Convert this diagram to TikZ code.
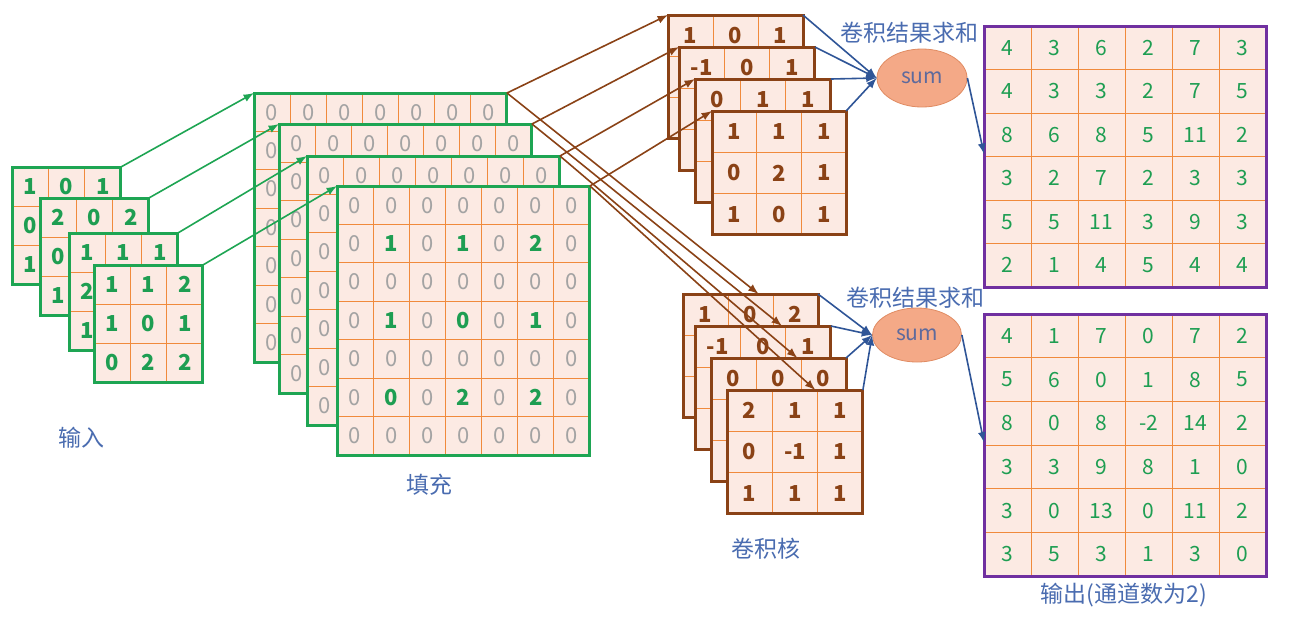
\documentclass[tikz,border=0pt]{standalone}
\usepackage{fontspec}
\setmainfont{Noto Sans CJK SC}
\usetikzlibrary{shapes.geometric,calc}

\definecolor{cellpink}{HTML}{FCEAE3}
\definecolor{gridorange}{HTML}{F08A3C}
\definecolor{boxgreen}{HTML}{1EA553}
\definecolor{numgreen}{HTML}{1E9E52}
\definecolor{kerbrown}{HTML}{8A4216}
\definecolor{outpurple}{HTML}{7030A0}
\definecolor{lblblue}{HTML}{4A6CB0}
\definecolor{arrblue}{HTML}{2F5597}
\definecolor{sumfill}{HTML}{F4A987}
\definecolor{sumline}{HTML}{E08B62}
\definecolor{sumtext}{HTML}{5E6A9C}
\definecolor{zerogray}{HTML}{A3A3A3}

\tikzset{
  cellbg/.style={fill=cellpink,inner sep=0pt,outer sep=0pt,anchor=north west},
  gridline/.style={gridorange,line width=0.5pt},
  greenbox/.style={boxgreen,line width=1.5pt},
  brownbox/.style={kerbrown,line width=1.5pt},
  purplebox/.style={outpurple,line width=1.5pt},
  intext/.style={text=numgreen,font=\fontsize{11}{13}\selectfont\bfseries},
  padtext/.style={text=zerogray,font=\fontsize{11}{13}\selectfont},
  kertext/.style={text=kerbrown,font=\fontsize{11}{13}\selectfont\bfseries},
  outtext/.style={text=numgreen,font=\fontsize{10.5}{13}\selectfont},
  lbl/.style={text=lblblue,font=\fontsize{11.5}{13}\selectfont},
  sumnode/.style={ellipse,fill=sumfill,draw=sumline,line width=0.4pt,inner sep=0pt,
    text=sumtext,font=\fontsize{10.5}{12}\selectfont},
  greenarr/.style={->,boxgreen,line width=0.8pt},
  brownarr/.style={->,kerbrown,line width=0.8pt},
  bluearr/.style={->,arrblue,line width=0.8pt},
}

% bold green entry inside a padded map
\newcommand\hl[1]{\textcolor{numgreen}{\bfseries #1}}

% #1 name, #2 left, #3 top, #4 cells per side, #5 cell width, #6 cell height,
% #7 border style, #8 text style, #9 values row by row
\newcommand\matgrid[9]{%
  \node[cellbg,minimum width=#4*#5*0.5pt,minimum height=#4*#6*0.5pt] (#1) at (#2,#3) {};
  \pgfmathtruncatemacro\lastline{#4-1}
  \foreach \i in {1,...,\lastline} {
    \draw[gridline] (#2+\i*#5,#3) -- (#2+\i*#5,#3+#4*#6);
    \draw[gridline] (#2,#3+\i*#6) -- (#2+#4*#5,#3+\i*#6);
  }
  \foreach \v [count=\k from 0] in {#9} {
    \pgfmathtruncatemacro\row{floor(\k/#4)}
    \pgfmathtruncatemacro\col{\k-\row*#4}
    \node[#8] at (#2+\col*#5+#5/2,#3+\row*#6+#6/2) {\v};
  }
  \draw[#7] (#1.north west) rectangle (#1.south east);
}

\begin{document}
\begin{tikzpicture}[x=0.5pt,y=-0.5pt,>=latex]
    \useasboundingbox (0,0) rectangle (1290,617);

    % input channels
    \matgrid{i1}{12}{167}{3}{36.3}{39}{greenbox}{intext}{1,0,1,0,{},{},1,{},{}}
    \matgrid{i2}{40}{198}{3}{36.3}{39}{greenbox}{intext}{2,0,2,0,{},{},1,{},{}}
    \matgrid{i3}{69}{233}{3}{36.3}{39}{greenbox}{intext}{1,1,1,2,{},{},1,{},{}}
    \matgrid{i4}{94}{265}{3}{36.3}{39}{greenbox}{intext}{1,1,2,1,0,1,0,2,2}
    \node[lbl] (inlabel) at (81,438) {输入};

    % padded channels
    \foreach \nm/\px/\py in {p1/254/93, p2/279/124, p3/307/156} {
        \matgrid{\nm}{\px}{\py}{7}{36.14}{38.43}{greenbox}{padtext}{
            0,0,0,0,0,0,0,
            0,{},{},{},{},{},{},
            0,{},{},{},{},{},{},
            0,{},{},{},{},{},{},
            0,{},{},{},{},{},{},
            0,{},{},{},{},{},{},
            0,{},{},{},{},{},{}}
    }
    \matgrid{p4}{337}{186}{7}{36.14}{38.43}{greenbox}{padtext}{
        0,0,0,0,0,0,0,
        0,\hl{1},0,\hl{1},0,\hl{2},0,
        0,0,0,0,0,0,0,
        0,\hl{1},0,\hl{0},0,\hl{1},0,
        0,0,0,0,0,0,0,
        0,\hl{0},0,\hl{2},0,\hl{2},0,
        0,0,0,0,0,0,0}
    \node[lbl] (padlabel) at (429,485) {填充};

    % kernels, first output channel
    \matgrid{k1}{668}{15}{3}{45}{41.3}{brownbox}{kertext}{1,0,1,{},{},{},{},{},{}}
    \matgrid{k2}{679}{47}{3}{45.3}{41.3}{brownbox}{kertext}{-1,0,1,{},{},{},{},{},{}}
    \matgrid{k3}{695}{79}{3}{45.3}{41.3}{brownbox}{kertext}{0,1,1,{},{},{},{},{},{}}
    \matgrid{k4}{712}{111}{3}{44.7}{41.3}{brownbox}{kertext}{1,1,1,0,2,1,1,0,1}

    % kernels, second output channel
    \matgrid{l1}{683}{294}{3}{45}{41.3}{brownbox}{kertext}{1,0,2,{},{},{},{},{},{}}
    \matgrid{l2}{695}{326}{3}{45.3}{41.3}{brownbox}{kertext}{-1,0,1,{},{},{},{},{},{}}
    \matgrid{l3}{711}{358}{3}{45}{41.3}{brownbox}{kertext}{0,0,0,{},{},{},{},{},{}}
    \matgrid{l4}{727}{390}{3}{45.3}{41.3}{brownbox}{kertext}{2,1,1,0,-1,1,1,1,1}
    \node[lbl] (kerlabel) at (766,549) {卷积核};

    % sums
    \node[sumnode,minimum width=45pt,minimum height=29pt] (sum1) at (922,78) {sum};
    \node[sumnode,minimum width=44.5pt,minimum height=27pt] (sum2) at (917,335) {sum};
    \node[lbl] (sumlabel1) at (909,33) {卷积结果求和};
    \node[lbl] (sumlabel2) at (915,298) {卷积结果求和};

    % outputs
    \matgrid{o1}{984}{26}{6}{47}{43.5}{purplebox}{outtext}{
        4,3,6,2,7,3,
        4,3,3,2,7,5,
        8,6,8,5,11,2,
        3,2,7,2,3,3,
        5,5,11,3,9,3,
        2,1,4,5,4,4}
    \matgrid{o2}{984}{314}{6}{47}{43.7}{purplebox}{outtext}{
        4,1,7,0,7,2,
        5,6,0,1,8,5,
        8,0,8,-2,14,2,
        3,3,9,8,1,0,
        3,0,13,0,11,2,
        3,5,3,1,3,0}
    \node[lbl] (outlabel) at (1124,595) {输出(通道数为2)};

    % connectors
    \foreach \n in {1,...,4} {
        \draw[greenarr] (i\n.north east) -- (p\n.north west);
        \draw[brownarr] (p\n.north east) -- (k\n.north west);
        \draw[bluearr] (k\n.north east) -- (sum1.west);
        \draw[bluearr] (l\n.north east) -- (sum2.west);
    }
    \draw[brownarr] (p1.north east) -- ($(l1.north west)!0.56!(l1.north east)$);
    \draw[brownarr] (p2.north east) -- ($(l2.north west)!0.64!(l2.north east)$);
    \draw[brownarr] (p3.north east) -- ($(l3.north west)!0.64!(l3.north east)$);
    \draw[brownarr] (p4.north east) -- ($(l4.north west)!0.65!(l4.north east)$);
    \draw[bluearr] (sum1.east) -- ($(o1.north west)!0.49!(o1.south west)$);
    \draw[bluearr] (sum2.east) -- ($(o2.north west)!0.49!(o2.south west)$);
\end{tikzpicture}
\end{document}
